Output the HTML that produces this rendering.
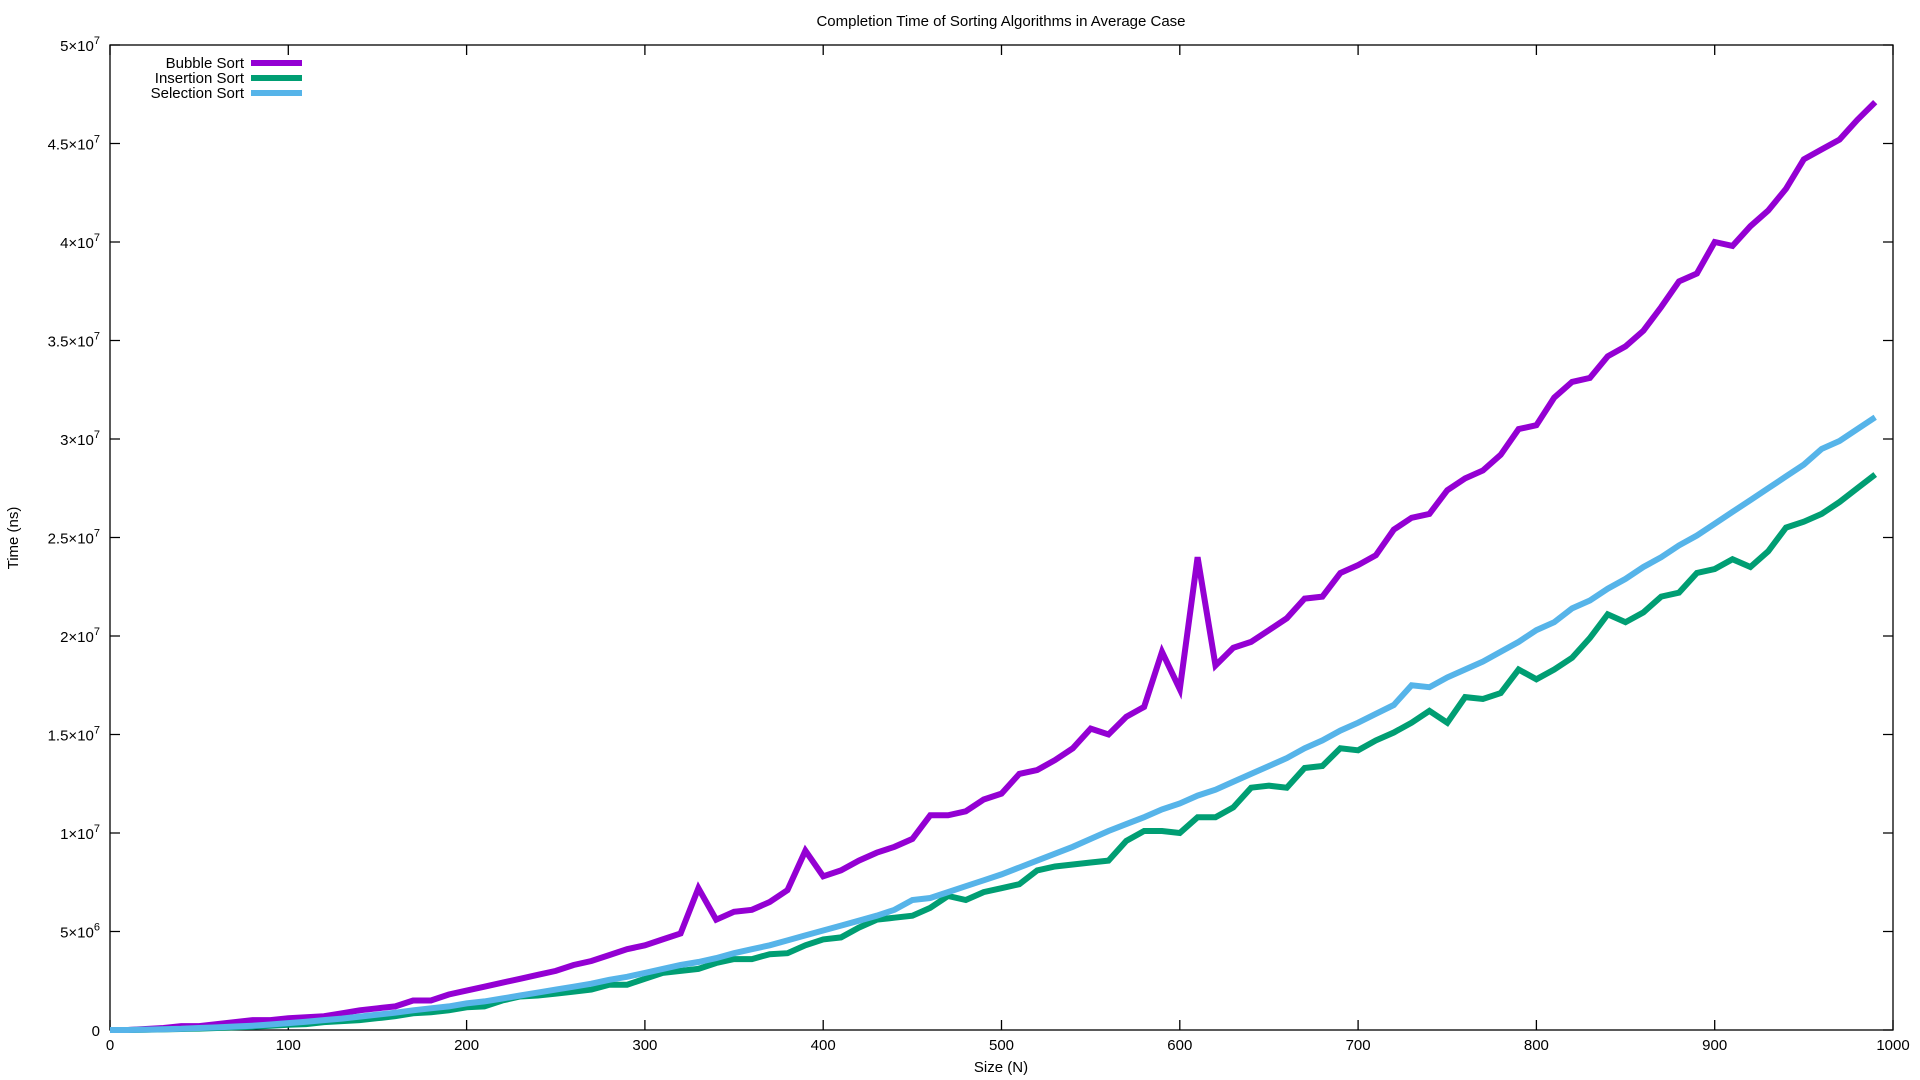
<!DOCTYPE html>
<html><head><meta charset="utf-8"><style>
body{margin:0;background:#fff}
svg{display:block}
text{font-family:"Liberation Sans",Arial,sans-serif;fill:#000}
</style></head><body>
<svg id="chart" width="1920" height="1080" xmlns="http://www.w3.org/2000/svg">
<text x="1001" y="26" font-size="15" text-anchor="middle">Completion Time of Sorting Algorithms in Average Case</text>
<text x="1001" y="1072" font-size="15" text-anchor="middle">Size (N)</text>
<text transform="translate(18,538) rotate(-90)" font-size="15" text-anchor="middle">Time (ns)</text>
<g id="axes"></g>
<g id="series"></g>
<g id="legend"></g>
</svg>
<script>
const sizes=[];for(let i=0;i<100;i++)sizes.push(i*10);
const bubble=[0,0,0.05,0.1,0.2,0.2,0.3,0.4,0.5,0.5,0.6,0.65,0.7,0.85,1.0,1.1,1.2,1.5,1.5,1.8,2.0,2.2,2.4,2.6,2.8,3.0,3.3,3.5,3.8,4.1,4.3,4.6,4.9,7.2,5.6,6.0,6.1,6.5,7.1,9.1,7.8,8.1,8.6,9.0,9.3,9.7,10.9,10.9,11.1,11.7,12.0,13.0,13.2,13.7,14.3,15.3,15.0,15.9,16.4,19.2,17.3,24.0,18.5,19.4,19.7,20.3,20.9,21.9,22.0,23.2,23.6,24.1,25.4,26.0,26.2,27.4,28.0,28.4,29.2,30.5,30.7,32.1,32.9,33.1,34.2,34.7,35.5,36.7,38.0,38.4,40.0,39.8,40.8,41.6,42.7,44.2,44.7,45.2,46.2,47.1];
const insertion=[0,0,0.01,0.03,0.05,0.07,0.1,0.13,0.17,0.22,0.27,0.3,0.4,0.45,0.5,0.6,0.7,0.85,0.9,1.0,1.15,1.2,1.5,1.7,1.75,1.85,1.95,2.05,2.3,2.3,2.6,2.9,3.0,3.1,3.4,3.6,3.6,3.85,3.9,4.3,4.6,4.7,5.2,5.6,5.7,5.8,6.2,6.8,6.6,7.0,7.2,7.4,8.1,8.3,8.4,8.5,8.6,9.6,10.1,10.1,10.0,10.8,10.8,11.3,12.3,12.4,12.3,13.3,13.4,14.3,14.2,14.7,15.1,15.6,16.2,15.6,16.9,16.8,17.1,18.3,17.8,18.3,18.9,19.9,21.1,20.7,21.2,22.0,22.2,23.2,23.4,23.9,23.5,24.3,25.5,25.8,26.2,26.8,27.5,28.2];
const selection=[0,0,0.02,0.04,0.06,0.1,0.13,0.18,0.22,0.28,0.35,0.42,0.5,0.58,0.68,0.78,0.88,1.0,1.1,1.2,1.35,1.45,1.6,1.75,1.9,2.05,2.2,2.35,2.55,2.7,2.9,3.1,3.3,3.45,3.65,3.9,4.1,4.3,4.55,4.8,5.05,5.3,5.55,5.8,6.1,6.6,6.7,7.0,7.3,7.6,7.9,8.25,8.6,8.95,9.3,9.7,10.1,10.45,10.8,11.2,11.5,11.9,12.2,12.6,13.0,13.4,13.8,14.3,14.7,15.2,15.6,16.05,16.5,17.5,17.4,17.9,18.3,18.7,19.2,19.7,20.3,20.7,21.4,21.8,22.4,22.9,23.5,24.0,24.6,25.1,25.7,26.3,26.9,27.5,28.1,28.7,29.5,29.9,30.5,31.1];
const xTicks=[0,100,200,300,400,500,600,700,800,900,1000];
const yTicks=[0,5,10,15,20,25,30,35,40,45,50];
const yTickLabels=["0","5×10^6","1×10^7","1.5×10^7","2×10^7","2.5×10^7","3×10^7","3.5×10^7","4×10^7","4.5×10^7","5×10^7"];
const seriesNames=["Bubble Sort","Insertion Sort","Selection Sort"];
const seriesColors=["#9400d3","#009e73","#56b4e9"];

const L=110,R=1893,T=45,B=1030;
const NS="http://www.w3.org/2000/svg";
function sx(v){return L+(v/1000)*(R-L);}
function sy(v){return B-(v/50)*(B-T);}
function mk(tag,attrs,parent){const e=document.createElementNS(NS,tag);for(const k in attrs)e.setAttribute(k,attrs[k]);parent.appendChild(e);return e;}
const axes=document.getElementById('axes');
const fr=mk('rect',{x:L,y:T,width:R-L,height:B-T,fill:'none',stroke:'#000','stroke-width':1.3},axes);


xTicks.forEach(t=>{
  const x=sx(t);
  const tk=mk('path',{d:`M${x},${B}v-10M${x},${T}v10`,stroke:'#000','stroke-width':1.3},axes);
  
  
  const lb=mk('text',{x:x,y:B+20,'font-size':15,'text-anchor':'middle'},axes);
  lb.textContent=String(t);
  
  
});
yTicks.forEach((t,i)=>{
  const y=sy(t);
  const tk=mk('path',{d:`M${L},${y}h10M${R},${y}h-10`,stroke:'#000','stroke-width':1.3},axes);
  
  
  const lb=mk('text',{x:L-10,y:y+6,'font-size':15,'text-anchor':'end'},axes);
  
  
  const parts=yTickLabels[i].split('^');
  lb.appendChild(document.createTextNode(parts[0]));
  if(parts[1]){const s=mk('tspan',{dy:-7,'font-size':11},lb);s.textContent=parts[1];}
});
const sg=document.getElementById('series');
[bubble,insertion,selection].forEach((data,si)=>{
  const d=data.map((v,i)=>(i?'L':'M')+sx(sizes[i]).toFixed(1)+','+sy(v).toFixed(1)).join('');
  const p=mk('path',{d:d,fill:'none',stroke:seriesColors[si],'stroke-width':6,'stroke-linejoin':'miter'},sg);
  
  
});
const lg=document.getElementById('legend');
seriesNames.forEach((n,i)=>{
  const y=63+i*15;
  const t=mk('text',{x:244,y:y+5,'font-size':15,'text-anchor':'end'},lg);
  t.textContent=n;
  
  
  const l=mk('line',{x1:251,x2:302,y1:y,y2:y,stroke:seriesColors[i],'stroke-width':6},lg);
  
  
});
</script>
</body></html>
